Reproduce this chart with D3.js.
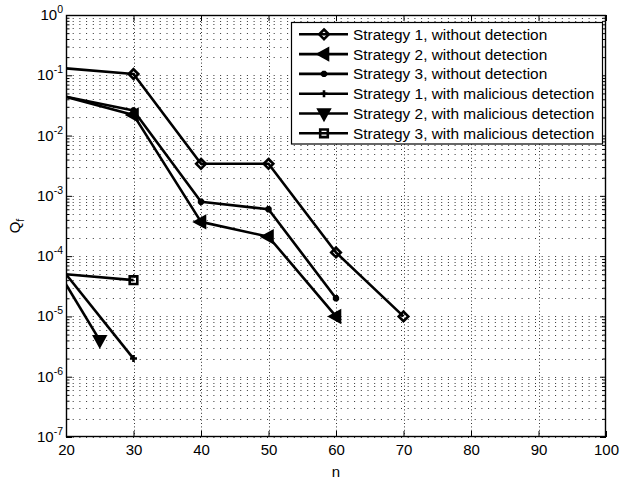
<!DOCTYPE html>
<html>
<head>
<meta charset="utf-8">
<script src="https://cdn.jsdelivr.net/npm/d3@7/dist/d3.min.js"></script>
<style>
  html, body { margin: 0; padding: 0; background: #fff; }
  svg { display: block; font-family: "Liberation Sans", Arial, Helvetica, sans-serif; }
</style>
</head>
<body>
<svg id="chart" width="621" height="483"></svg>
<script>
// ---- data ----
const xTickValues = [20, 30, 40, 50, 60, 70, 80, 90, 100];
const yTickExponents = [0, -1, -2, -3, -4, -5, -6, -7];

const seriesNames = [
  "Strategy 1, without detection",
  "Strategy 2, without detection",
  "Strategy 3, without detection",
  "Strategy 1, with malicious detection",
  "Strategy 2, with malicious detection",
  "Strategy 3, with malicious detection"
];
const seriesMarkers = ["diamond", "triangleLeft", "asterisk", "plus", "triangleDown", "square"];

const s1NoDetN = [20, 30, 40, 50, 60, 70];
const s1NoDetQ = [0.13, 0.105, 3.4e-3, 3.4e-3, 1.15e-4, 1e-5];
const s2NoDetN = [20, 30, 40, 50, 60];
const s2NoDetQ = [0.044, 0.022, 3.7e-4, 2.1e-4, 1e-5];
const s3NoDetN = [20, 30, 40, 50, 60];
const s3NoDetQ = [0.044, 0.026, 8e-4, 6e-4, 2e-5];
const s1DetN = [20, 30];
const s1DetQ = [5e-5, 2e-6];
const s2DetN = [20, 25];
const s2DetQ = [3.4e-5, 4e-6];
const s3DetN = [20, 30];
const s3DetQ = [5e-5, 4e-5];

const seriesN = [s1NoDetN, s2NoDetN, s3NoDetN, s1DetN, s2DetN, s3DetN];
const seriesQ = [s1NoDetQ, s2NoDetQ, s3NoDetQ, s1DetQ, s2DetQ, s3DetQ];

// ---- layout ----
const plotL = 66, plotR = 606, plotT = 15, plotB = 437;
const svg = d3.select("#chart");

const x = d3.scaleLinear().domain([20, 100]).range([plotL, plotR]);
const y = d3.scaleLog().domain([1e-7, 1]).range([plotB, plotT]);

// ---- grid ----
const grid = svg.append("g").attr("stroke", "#333").attr("stroke-width", 1).attr("fill", "none");
const minorVals = [];
for (let e = -7; e < 0; e++) {
  for (let m = 1; m <= 9; m++) minorVals.push(m * Math.pow(10, e));
}
minorVals.push(1);
minorVals.forEach(v => {
  const yy = Math.round(y(v)) + 0.5;
  grid.append("line").attr("x1", plotL).attr("x2", plotR).attr("y1", yy).attr("y2", yy)
    .attr("stroke-dasharray", "1,5.7");
});
xTickValues.slice(1, -1).forEach(v => {
  const xx = Math.round(x(v)) + 0.5;
  grid.append("line").attr("x1", xx).attr("x2", xx).attr("y1", plotT).attr("y2", plotB)
    .attr("stroke-dasharray", "1,2.4");
});

// ---- axes (ticks inside, on all four sides) ----
const yMajor = yTickExponents.map(e => Math.pow(10, e));
const yMinor = minorVals.filter(v => !yMajor.some(m => Math.abs(Math.log10(v) - Math.log10(m)) < 1e-9));

const axB = svg.append("g").attr("transform", `translate(0,${plotB})`)
  .call(d3.axisBottom(x).tickValues(xTickValues).tickSize(-6).tickPadding(7).tickFormat(d3.format("d")));
const axT = svg.append("g").attr("transform", `translate(0,${plotT})`)
  .call(d3.axisTop(x).tickValues(xTickValues).tickSize(-6).tickFormat(""));
const axL = svg.append("g").attr("transform", `translate(${plotL},0)`)
  .call(d3.axisLeft(y).tickValues(yMajor).tickSize(-6).tickFormat(""));
const axLm = svg.append("g").attr("transform", `translate(${plotL},0)`)
  .call(d3.axisLeft(y).tickValues(yMinor).tickSize(-3.5).tickFormat(""));
const axR = svg.append("g").attr("transform", `translate(${plotR},0)`)
  .call(d3.axisRight(y).tickValues(yMajor).tickSize(-6).tickFormat(""));
const axRm = svg.append("g").attr("transform", `translate(${plotR},0)`)
  .call(d3.axisRight(y).tickValues(yMinor).tickSize(-3.5).tickFormat(""));

[axB, axT, axL, axLm, axR, axRm].forEach(a => {
  a.select(".domain").remove();
  a.selectAll("line").attr("stroke", "#000").attr("stroke-width", 1);
});
axB.selectAll("text").attr("font-size", 15).attr("fill", "#000")
  .attr("font-family", "'Liberation Sans', Arial, sans-serif");

// y tick labels as powers of ten
const yLab = svg.append("g");
yTickExponents.forEach(e => {
  const t = yLab.append("text")
    .attr("x", plotL - 3).attr("y", y(Math.pow(10, e)) + 5)
    .attr("text-anchor", "end").attr("font-size", 15).attr("fill", "#000");
  t.append("tspan").text("10");
  t.append("tspan").attr("dy", -7).attr("font-size", 10.5).text(e === 0 ? "0" : "-" + Math.abs(e));
});

// frame
svg.append("rect").attr("x", plotL + 0.5).attr("y", plotT + 0.5)
  .attr("width", plotR - plotL - 1).attr("height", plotB - plotT - 1)
  .attr("fill", "none").attr("stroke", "#000").attr("stroke-width", 1.4);

// ---- markers (outlined, MATLAB-like) ----
function markerPath(type) {
  switch (type) {
    case "diamond": return "M0,-4.8L4.8,0L0,4.8L-4.8,0Z";
    case "triangleLeft": return "M-6,0L4,-5.5L4,5.5Z";
    case "triangleDown": return "M-5.5,-4L5.5,-4L0,6Z";
    case "square": return "M-3.8,-3.8L3.8,-3.8L3.8,3.8L-3.8,3.8Z";
    case "plus": return "M-3.5,0L3.5,0M0,-3.5L0,3.5";
    case "asterisk": return "M-3.2,0L3.2,0M0,-3.2L0,3.2M-2.3,-2.3L2.3,2.3M-2.3,2.3L2.3,-2.3";
  }
}
function markerFill(type) {
  return (type === "triangleLeft" || type === "triangleDown") ? "#000" : "none";
}

// ---- series ----
svg.append("clipPath").attr("id", "plotClip").append("rect")
  .attr("x", plotL).attr("y", plotT).attr("width", plotR - plotL).attr("height", plotB - plotT);

const line = d3.line().x(d => x(d[0])).y(d => y(d[1]));
const plot = svg.append("g").attr("clip-path", "url(#plotClip)");

seriesN.forEach((ns, i) => {
  const pts = ns.map((n, j) => [n, seriesQ[i][j]]);
  plot.append("path").datum(pts).attr("d", line)
    .attr("fill", "none").attr("stroke", "#000").attr("stroke-width", 2.6)
    .attr("stroke-linejoin", "round");
  plot.selectAll(null).data(pts.filter(p => p[0] > 20)).enter().append("path")
    .attr("transform", p => `translate(${x(p[0])},${y(p[1])})`)
    .attr("d", markerPath(seriesMarkers[i]))
    .attr("fill", markerFill(seriesMarkers[i])).attr("stroke", "#000").attr("stroke-width", 2.6);
});

// ---- legend ----
const lg = svg.append("g");
lg.append("rect").attr("x", 291.5).attr("y", 22.5).attr("width", 311).attr("height", 121.5)
  .attr("fill", "#fff").attr("stroke", "#000").attr("stroke-width", 1.2);
seriesNames.forEach((name, i) => {
  const cy = 34.3 + i * 19.8;
  lg.append("line").attr("x1", 299).attr("x2", 348).attr("y1", cy).attr("y2", cy)
    .attr("stroke", "#000").attr("stroke-width", 2.6);
  lg.append("path").attr("transform", `translate(324,${cy})`)
    .attr("d", markerPath(seriesMarkers[i]))
    .attr("fill", markerFill(seriesMarkers[i])).attr("stroke", "#000").attr("stroke-width", 2.6);
  lg.append("text").attr("x", 353).attr("y", cy + 5.5).attr("font-size", 15.4).attr("fill", "#000").text(name);
});

// ---- axis titles ----
const yt = svg.append("text").attr("transform", `translate(20,${(plotT + plotB) / 2}) rotate(-90)`)
  .attr("text-anchor", "middle").attr("font-size", 15).attr("fill", "#000");
yt.append("tspan").text("Q");
yt.append("tspan").attr("dy", 4).attr("font-size", 10.5).text("f");

svg.append("text").attr("x", (plotL + plotR) / 2).attr("y", 477)
  .attr("text-anchor", "middle").attr("font-size", 15).attr("fill", "#000").text("n");
</script>
</body>
</html>
